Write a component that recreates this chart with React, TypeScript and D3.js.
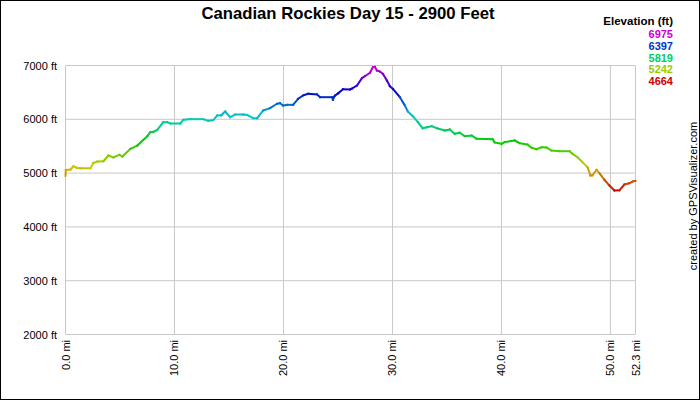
import React from "react";
import * as d3 from "d3";

const title = "Canadian Rockies Day 15 - 2900 Feet";
const legendTitle = "Elevation (ft)";
const legendValues = [6975, 6397, 5819, 5242, 4664];
const yTicks = [2000, 3000, 4000, 5000, 6000, 7000];
const xTicks = [0, 10, 20, 30, 40, 50, 52.3];

const miles = [
  0.0, 0.03, 0.46, 0.73, 1.0, 1.37, 2.29, 2.56, 2.93, 3.48, 3.94, 4.4, 4.95, 5.22, 5.95, 6.59, 7.51, 7.78,
  8.06, 8.42, 8.97, 9.34, 9.62, 10.53, 10.81, 11.45, 12.64, 13.1, 13.55, 13.92, 14.29, 14.65, 15.11, 15.57,
  16.3, 16.67, 17.22, 17.58, 18.13, 18.77, 19.41, 19.69, 19.96, 20.33, 20.88, 21.34, 21.79, 22.25, 23.08,
  23.35, 24.45, 24.54, 24.63, 24.73, 25.0, 25.46, 26.1, 26.28, 26.74, 27.2, 27.47, 27.93, 28.21, 28.39,
  28.57, 28.85, 29.12, 29.49, 29.76, 30.04, 30.68, 31.14, 31.41, 31.87, 32.33, 32.78, 33.15, 33.61, 34.07,
  34.8, 35.26, 35.71, 36.17, 36.63, 37.27, 37.73, 39.19, 39.38, 40.02, 40.29, 41.21, 41.67, 42.4, 42.77,
  43.22, 43.68, 44.14, 44.6, 45.33, 46.25, 46.52, 46.98, 47.44, 47.89, 48.17, 48.35, 48.72, 48.99, 49.45,
  49.91, 50.37, 50.82, 51.28, 51.74, 52.11, 52.3,
];
const elevations = [
  4950, 5060, 5067, 5128, 5100, 5090, 5090, 5190, 5215, 5220, 5327, 5290, 5340, 5308, 5451, 5513, 5686, 5760,
  5765, 5805, 5946, 5946, 5922, 5922, 5990, 6002, 6002, 5972, 5985, 6071, 6075, 6145, 6039, 6089,
  6089, 6080, 6020, 6020, 6163, 6207, 6288, 6300, 6256, 6269, 6269, 6381, 6442, 6473, 6461,
  6411, 6411, 6362, 6411, 6440, 6480, 6560, 6555, 6570, 6628, 6764, 6801, 6864, 6969, 6975,
  6907, 6888, 6845, 6721, 6616, 6566, 6411, 6256, 6145, 6057, 5946, 5834, 5852, 5871, 5834,
  5792, 5810, 5730, 5749, 5686, 5698, 5637, 5630, 5569, 5544, 5575, 5606, 5555, 5531, 5470,
  5444, 5481, 5475, 5420, 5407, 5407, 5358, 5296, 5203, 5110, 4955, 4960, 5061, 4998, 4875,
  4769, 4676, 4680, 4788, 4812, 4849, 4855,
];

const W = 700;
const H = 400;
const font = "'Liberation Sans', Arial, sans-serif";

export default function App() {
  const x = d3.scaleLinear().domain([0, 52.3]).range([65.5, 635.5]);
  const y = d3.scaleLinear().domain([2000, 7000]).range([334.5, 65.5]);
  const minE = 4664;
  const maxE = 6975;
  const color = (e: number) => {
    const t = Math.max(0, Math.min(1, (e - minE) / (maxE - minE)));
    return d3.hsl(t * 300, 1, 0.4).formatHex();
  };
  const line = d3.line<[number, number]>().x((d) => x(d[0])).y((d) => y(d[1]));
  const segs = [];
  for (let i = 0; i < miles.length - 1; i++) {
    const a: [number, number] = [miles[i], elevations[i]];
    const b: [number, number] = [miles[i + 1], elevations[i + 1]];
    segs.push(
      <path
        key={i}
        d={line([a, b]) || ""}
        stroke={color((a[1] + b[1]) / 2)}
        strokeWidth={2}
        fill="none"
        strokeLinecap="square"
        strokeLinejoin="round"
      />
    );
  }
  return (
    <svg width={W} height={H} style={{ position: "absolute", left: 0, top: 0, background: "#fff" }} fontFamily={font}>
      <rect x={0.5} y={0.5} width={W - 1} height={H - 1} fill="#fff" stroke="#000" strokeWidth={1} />
      <text x={348} y={19} textAnchor="middle" fontSize={16.7} fontWeight="bold" fill="#000">
        {title}
      </text>
      {yTicks.map((t) => (
        <g key={t}>
          <line x1={x(0)} x2={x(52.3)} y1={y(t)} y2={y(t)} stroke="#c8c8c8" strokeWidth={1} />
          <text x={57} y={y(t) + 4} textAnchor="end" fontSize={11} fill="#000">
            {t} ft
          </text>
        </g>
      ))}
      {xTicks.map((t) => (
        <g key={t}>
          <line x1={x(t)} x2={x(t)} y1={y(7000)} y2={y(2000)} stroke="#c8c8c8" strokeWidth={1} />
          <text
            transform={`translate(${x(t) + 4},340) rotate(-90)`}
            textAnchor="end"
            fontSize={11}
            fill="#000"
          >
            {t.toFixed(1)} mi
          </text>
        </g>
      ))}
      <line x1={x(0)} x2={x(0)} y1={y(7000)} y2={y(2000)} stroke="#c8c8c8" />
      <g>{segs}</g>
      <text x={673} y={25} textAnchor="end" fontSize={11.5} fontWeight="bold" fill="#000">
        {legendTitle}
      </text>
      {legendValues.map((v, i) => (
        <text key={v} x={673} y={38 + i * 11.8} textAnchor="end" fontSize={11} fontWeight="bold" fill={color(v)}>
          {v}
        </text>
      ))}
      <text transform="translate(697,196) rotate(-90)" textAnchor="middle" fontSize={11} fill="#000">
        created by GPSVisualizer.com
      </text>
    </svg>
  );
}
